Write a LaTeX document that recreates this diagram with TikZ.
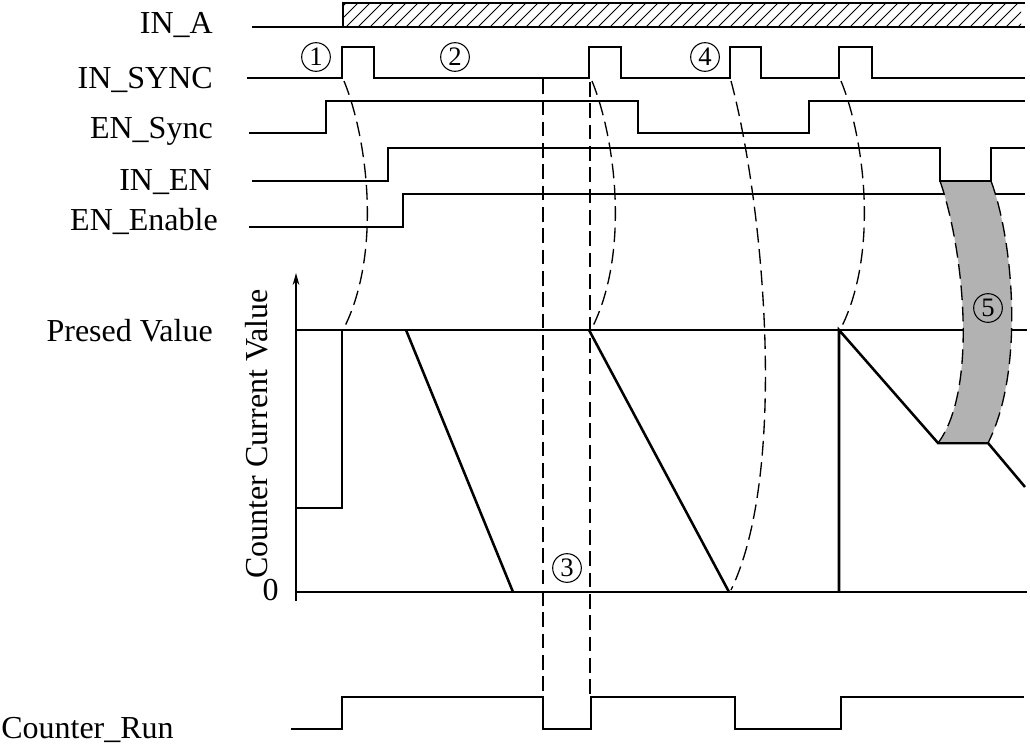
\documentclass[tikz,border=0pt]{standalone}
\usepackage{fontspec}
\setmainfont{Liberation Serif}
\usetikzlibrary{arrows.meta}
\begin{document}
\begin{tikzpicture}[x=0.75pt,y=-0.75pt,
  sig/.style={line width=1.9pt, line join=miter},
  dsh/.style={line width=1pt, dash pattern=on 11pt off 5pt},
  lbl/.style={anchor=base east, inner sep=0pt, font=\fontsize{24}{24}\selectfont},
  cnum/.style={circle, draw, line width=0.8pt, minimum size=21.5pt, inner sep=0pt, font=\fontsize{20}{20}\selectfont}]
\useasboundingbox (0,0) rectangle (1030,746);
% labels
\node[lbl] (la) at (213,33) {IN\_A};
\node[lbl] (lb) at (213,88) {IN\_SYNC};
\node[lbl] (lc) at (213,138) {EN\_Sync};
\node[lbl] (ld) at (212,190) {IN\_EN};
\node[lbl] (le) at (218,230) {EN\_Enable};
\node[lbl] (lp) at (213,341) {Presed Value};
\node[lbl] (l0) at (279,600) {0};
\node[lbl, anchor=base west, rotate=90] (lv) at (267,579) {Counter Current Value};
\node[lbl, anchor=base west] (lr) at (1,738) {Counter\_Run};
% IN_A hatched
\begin{scope}
\clip (343,3) rectangle (1021,27);
\foreach \x in {322,334,...,1030} \draw[line width=0.7pt] (\x,27) -- (\x+24,3);
\end{scope}
\draw[sig] (252,27) -- (1025,27);
\draw[sig] (343,27) -- (343,3) -- (1025,3);
% IN_SYNC
\draw[sig] (247,78) -- (342,78) -- (342,47) -- (374,47) -- (374,78) -- (589,78) -- (589,47) -- (621,47) -- (621,78)
  -- (730,78) -- (730,47) -- (761,47) -- (761,78) -- (839,78) -- (839,47) -- (872,47) -- (872,78) -- (1025,78);
% EN_Sync
\draw[sig] (249,133) -- (326,133) -- (326,101) -- (638,101) -- (638,133) -- (809,133) -- (809,101) -- (1025,101);
% IN_EN
\draw[sig] (252,181) -- (388,181) -- (388,148) -- (940,148) -- (940,181) -- (991,181) -- (991,148) -- (1025,148);
% EN_Enable
\draw[sig] (249,227) -- (403,227) -- (403,194) -- (1025,194);
% axis
\draw[line width=1.3pt, -{Stealth[length=9pt,width=5pt]}] (296,601) -- (296,273);
\draw[sig] (296,330) -- (1027,330);
\draw[sig] (296,592) -- (1027,592);
% counter value
\draw[sig] (296,508) -- (342,508) -- (342,330);
\draw[sig] (406,330) -- (513,592);
\draw[sig] (589,330) -- (729,592);
\draw[sig] (839,592) -- (839,330) -- (938,443) -- (988,443) -- (1025,487);
% Counter_Run
\draw[sig] (291,729) -- (342,729) -- (342,697) -- (543,697) -- (543,729) -- (591,729) -- (591,697)
  -- (735,697) -- (735,729) -- (841,729) -- (841,697) -- (1024,697);
% vertical dashed
\draw[dsh] (543,79) -- (543,697);
\draw[dsh] (590,82) -- (590,697);
% curved dashed
\draw[dsh] (344,81) .. controls (368,140) and (382,255) .. (343,330);
\draw[dsh] (592,81) .. controls (616,140) and (630,255) .. (591,330);
\draw[dsh] (841,81) .. controls (865,140) and (879,255) .. (840,330);
\draw[dsh] (731,81) .. controls (763,200) and (789,470) .. (731,590);
% band 5
\fill[gray!60] (940,181) .. controls (964,250) and (978,390) .. (938,443) -- (988,443)
  .. controls (1025,370) and (1013,240) .. (991,181) -- cycle;
\draw[dsh] (940,181) .. controls (964,250) and (978,390) .. (938,443);
\draw[dsh] (991,181) .. controls (1013,240) and (1025,370) .. (988,443);
\draw[sig] (938,443) -- (988,443);
\draw[sig] (940,181) -- (991,181);
% circled numbers
\node[cnum] (n1) at (316,57) {1};
\node[cnum] (n2) at (455,57) {2};
\node[cnum] (n3) at (567,568) {3};
\node[cnum] (n4) at (705,57) {4};
\node[cnum] (n5) at (988,308) {5};
\end{tikzpicture}
\end{document}
